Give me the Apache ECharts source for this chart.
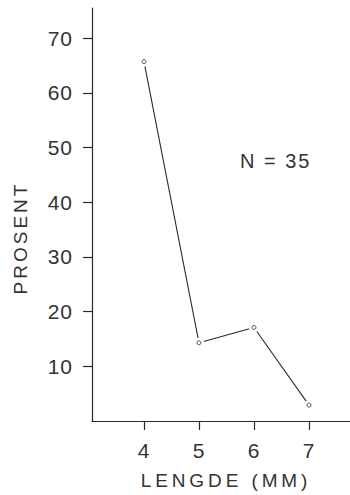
<!DOCTYPE html>
<html>
<head>
<meta charset="utf-8">
<script src="https://cdn.jsdelivr.net/npm/echarts@6/dist/echarts.min.js"></script>
<style>
  html, body { margin: 0; padding: 0; background: #fff; }
  #chart { width: 350px; height: 495px; }
</style>
</head>
<body>
<div id="chart"></div>
<script>
// data (N = 35 fish, share per length class)
const lengths = [4, 5, 6, 7];
const percent = [65.7, 14.3, 17.1, 2.9];
const yTicks = [10, 20, 30, 40, 50, 60, 70];
const xName = 'LENGDE (MM)';
const yName = 'PROSENT';
const note = 'N = 35';

const ink = '#2a2a2a';
const textInk = '#333';
const font = 'Liberation Sans';
const points = lengths.map((x, i) => [x, percent[i]]);

const chart = echarts.init(document.getElementById('chart'), null, { renderer: 'svg' });

chart.setOption({
  animation: false,
  grid: { left: 92, right: 0, top: 8, bottom: 72 },
  xAxis: {
    type: 'value',
    min: 3.055,
    max: 7.745,
    splitLine: { show: false },
    axisLine: { onZero: false, lineStyle: { color: ink, width: 1.2 } },
    axisTick: { customValues: lengths, length: 9, lineStyle: { color: ink, width: 1.2 } },
    axisLabel: { customValues: lengths, margin: 19, color: textInk, fontFamily: font, fontSize: 21 },
    name: xName,
    nameLocation: 'middle',
    nameGap: 50,
    nameTextStyle: { color: textInk, fontFamily: font, fontSize: 19, padding: [0, 0, 0, 10] }
  },
  yAxis: {
    type: 'value',
    min: 0,
    max: 75.5,
    splitLine: { show: false },
    axisLine: { onZero: false, lineStyle: { color: ink, width: 1.2 } },
    axisTick: { customValues: yTicks, length: 9, lineStyle: { color: ink, width: 1.2 } },
    axisLabel: { customValues: yTicks, margin: 19, color: textInk, fontFamily: font, fontSize: 21 }
  },
  graphic: [
    {
      type: 'text',
      x: 20,
      y: 238,
      rotation: Math.PI / 2,
      style: {
        text: yName,
        fill: textInk,
        font: '19px "Liberation Sans"',
        textAlign: 'center',
        textVerticalAlign: 'middle'
      }
    },
    {
      type: 'text',
      left: 240,
      top: 151,
      style: { text: note, fill: textInk, font: '20px "Liberation Sans"' }
    }
  ],
  series: [
    {
      // white halo round each point gives the small gap in the line
      type: 'line',
      data: points,
      symbol: 'circle',
      symbolSize: 10,
      itemStyle: { color: '#fff', borderWidth: 0 },
      lineStyle: { color: ink, width: 1.1 },
      z: 2
    },
    {
      type: 'scatter',
      data: points,
      symbol: 'circle',
      symbolSize: 4,
      itemStyle: { color: '#fff', borderColor: ink, borderWidth: 1 },
      z: 3
    }
  ]
});

// the lettering is widely spaced; svg text takes letter-spacing
const spacing = { [xName]: 3.9, [yName]: 3, [note]: 2 };
function spaceLetters() {
  document.querySelectorAll('#chart text').forEach(t => {
    const s = spacing[t.textContent.trim()];
    t.setAttribute('letter-spacing', s !== undefined ? s : 1);
  });
}
chart.on('finished', spaceLetters);
spaceLetters();
setTimeout(spaceLetters, 50);
</script>
</body>
</html>
